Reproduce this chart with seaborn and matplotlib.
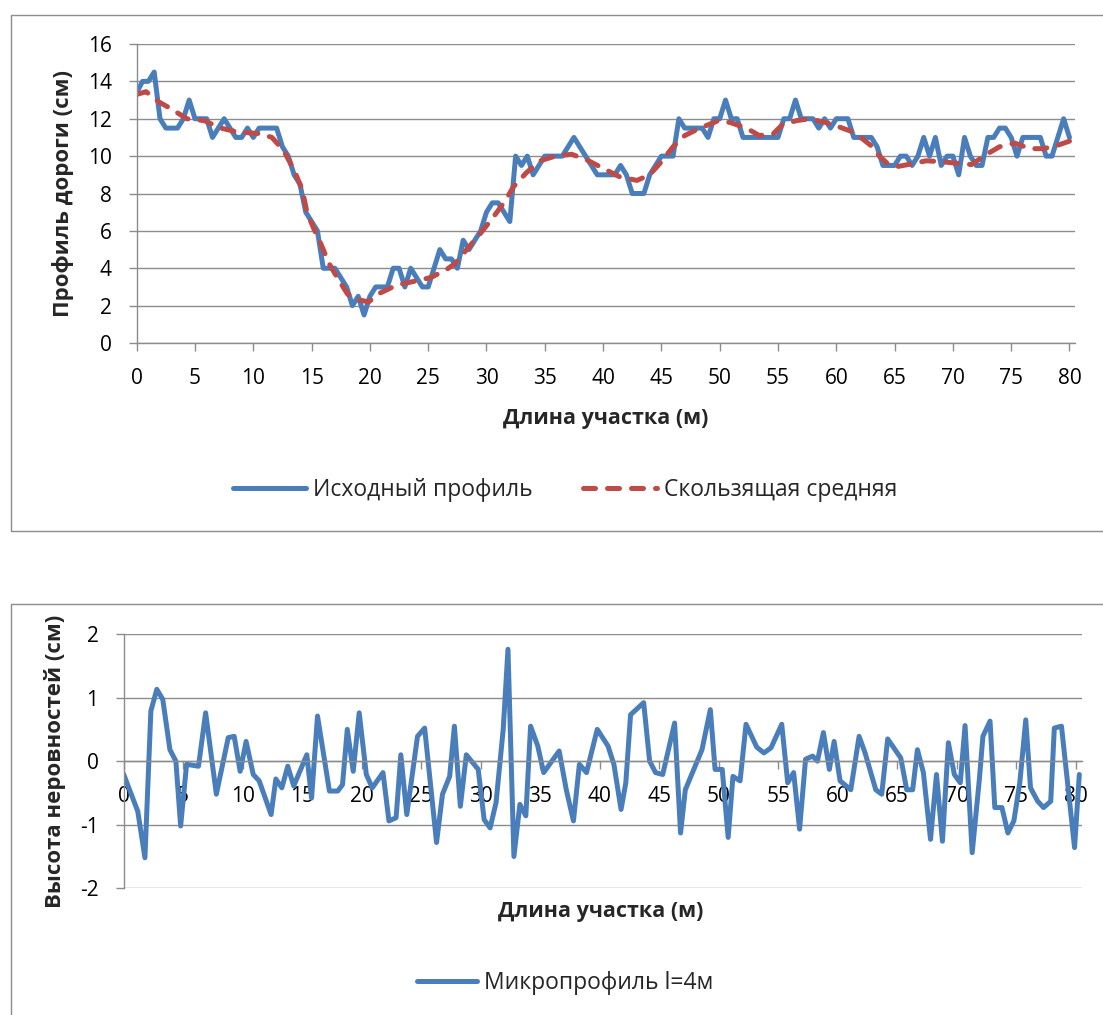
import matplotlib
matplotlib.use("Agg")
import matplotlib.pyplot as plt
from matplotlib.patches import Rectangle
import seaborn as sns
import pandas as pd

# исходный профиль (вершины ломаной)
prof_x = [0, 0.5, 1, 1.5, 2, 2.5, 3, 3.5, 4, 4.5, 5, 5.5, 6, 6.5, 7, 7.5, 8, 8.5, 9, 9.5,
          10, 10.5, 11, 11.5, 12, 12.5, 13, 13.5, 14, 14.5, 15, 15.5, 16, 16.5, 17, 17.5, 18, 18.5, 19, 19.5,
          20, 20.5, 21, 21.5, 22, 22.5, 23, 23.5, 24, 24.5, 25, 25.5, 26, 26.5, 27, 27.5, 28, 28.5, 29, 29.5,
          30, 30.5, 31, 31.5, 32, 32.5, 33, 33.5, 34, 34.5, 35, 35.5, 36, 36.5, 37, 37.5, 38, 38.5, 39, 39.5,
          40, 40.5, 41, 41.5, 42, 42.5, 43, 43.5, 44, 44.5, 45, 45.5, 46, 46.5, 47, 47.5, 48, 48.5, 49, 49.5,
          50, 50.5, 51, 51.5, 52, 52.5, 53, 53.5, 54, 54.5, 55, 55.5, 56, 56.5, 57, 57.5, 58, 58.5, 59, 59.5,
          60, 60.5, 61, 61.5, 62, 62.5, 63, 63.5, 64, 64.5, 65, 65.5, 66, 66.5, 67, 67.5, 68, 68.5, 69, 69.5,
          70, 70.5, 71, 71.5, 72, 72.5, 73, 73.5, 74, 74.5, 75, 75.5, 76, 76.5, 77, 77.5, 78, 78.5, 79, 79.5, 80]
prof_y = [13.4, 14, 14, 14.5, 12, 11.5, 11.5, 11.5, 12, 13, 12, 12, 12, 11, 11.5, 12, 11.5, 11, 11, 11.5,
          11, 11.5, 11.5, 11.5, 11.5, 10.5, 10, 9, 8.5, 7, 6.5, 6, 4, 4, 4, 3.5, 3, 2, 2.5, 1.5,
          2.5, 3, 3, 3, 4, 4, 3, 4, 3.5, 3, 3, 4, 5, 4.5, 4.5, 4, 5.5, 5, 5.5, 6,
          7, 7.5, 7.5, 7, 6.5, 10, 9.5, 10, 9, 9.5, 10, 10, 10, 10, 10.5, 11, 10.5, 10, 9.5, 9,
          9, 9, 9, 9.5, 9, 8, 8, 8, 9, 9.5, 10, 10, 10, 12, 11.5, 11.5, 11.5, 11.5, 11, 12,
          12, 13, 12, 12, 11, 11, 11, 11, 11, 11, 11, 12, 12, 13, 12, 12, 12, 11.5, 12, 11.5,
          12, 12, 12, 11, 11, 11, 11, 10.5, 9.5, 9.5, 9.5, 10, 10, 9.5, 10, 11, 10, 11, 9.5, 10,
          10, 9, 11, 10, 9.5, 9.5, 11, 11, 11.5, 11.5, 11, 10, 11, 11, 11, 11, 10, 10, 11, 12, 11]

# скользящая средняя
ma_x = [0, 0.8, 1.9, 2.9, 4.3, 5.8, 7.2, 8.6, 10.6, 11.6, 12.6, 13.5, 14.2, 14.6, 15.2, 15.8, 16.5, 17.2,
        18.1, 19.1, 19.9, 20.8, 22.3, 23.8, 25.2, 26.5, 27.3, 28.3, 29.4, 30.6, 31.6, 32.3, 33.4, 34.6,
        35.9, 37.3, 38.6, 40, 41.4, 42.9, 44, 45, 46, 47, 48.3, 49.9, 50.9, 52.3, 53.4, 54.6, 55.4, 56.6,
        57.7, 59.1, 60.3, 61.4, 62.3, 63.1, 63.7, 64.4, 65.3, 66.6, 67.7, 69.1, 70.6, 71.6, 72.9, 74,
        75.3, 76.6, 77.7, 78.6, 80]
ma_y = [13.3, 13.45, 12.9, 12.55, 12.0, 11.9, 11.5, 11.3, 11.2, 11.0, 10.3, 9.25, 8.2, 7.0, 6.1, 5.3, 4.25, 3.5,
        2.6, 2.3, 2.2, 2.65, 3.1, 3.3, 3.5, 3.9, 4.25, 5.0, 5.8, 6.75, 7.6, 8.35, 9.1, 9.75,
        10.0, 10.1, 9.8, 9.35, 8.9, 8.7, 9.0, 9.7, 10.5, 11.1, 11.5, 11.9, 11.8, 11.5, 11.1, 11.2, 11.7, 11.9,
        12.0, 11.8, 11.55, 11.3, 10.9, 10.5, 10.0, 9.6, 9.45, 9.6, 9.75, 9.7, 9.6, 9.55, 10.1, 10.5,
        10.7, 10.4, 10.4, 10.5, 10.8]

# микропрофиль l=4м
micro_x = [0, 1.2, 1.8, 2.3, 2.8, 3.3, 3.9, 4.4, 4.8, 5.3, 6.3, 6.9, 7.8, 8.8, 9.3, 9.8, 10.3, 10.9, 11.4,
           12.4, 12.8, 13.3, 13.8, 14.3, 15.4, 15.8, 16.3, 17.3, 18.0, 18.4, 18.8, 19.3, 19.8, 20.4, 20.9,
           21.8, 22.3, 22.9, 23.3, 23.8, 24.7, 25.3, 26.3, 26.8, 27.4, 27.8, 28.3, 28.8, 29.8, 30.3, 30.8,
           31.3, 31.9, 32.3, 32.8, 33.3, 33.8, 34.2, 34.8, 35.3, 36.6, 37.2, 37.8, 38.3, 38.9, 39.8, 40.7,
           41.2, 41.8, 42.2, 42.6, 43.7, 44.2, 44.7, 45.3, 46.3, 46.8, 47.2, 48.6, 49.3, 49.7, 50.3, 50.8,
           51.2, 51.8, 52.3, 53.2, 53.8, 54.4, 55.3, 55.8, 56.3, 56.8, 57.3, 57.9, 58.3, 58.8, 59.3, 59.7,
           60.2, 61.1, 61.8, 62.3, 63.2, 63.7, 64.2, 65.3, 65.8, 66.3, 66.7, 67.2, 67.8, 68.3, 68.8, 69.3,
           69.8, 70.3, 70.7, 71.3, 71.9, 72.2, 72.8, 73.2, 73.8, 74.3, 74.8, 75.3, 75.8, 76.2, 76.8, 77.3,
           77.9, 78.2, 78.8, 79.9, 80.3]
micro_y = [-0.2, -0.79, -1.52, 0.79, 1.13, 0.97, 0.18, 0.0, -1.02, -0.05, -0.08, 0.76, -0.52, 0.37, 0.39, -0.16, 0.31, -0.21, -0.31,
           -0.84, -0.28, -0.42, -0.08, -0.39, 0.1, -0.58, 0.71, -0.47, -0.47, -0.37, 0.5, -0.16, 0.76, -0.21, -0.42,
           -0.18, -0.94, -0.89, 0.1, -0.84, 0.39, 0.52, -1.28, -0.52, -0.24, 0.55, -0.71, 0.1, -0.13, -0.92, -1.05,
           -0.65, 0.5, 1.76, -1.5, -0.68, -0.86, 0.55, 0.24, -0.18, 0.16, -0.45, -0.94, -0.05, -0.18, 0.5, 0.24,
           -0.05, -0.76, -0.34, 0.73, 0.92, 0.0, -0.18, -0.21, 0.6, -1.13, -0.45, 0.18, 0.81, -0.13, -0.13, -1.2,
           -0.24, -0.31, 0.58, 0.22, 0.13, 0.21, 0.58, -0.34, -0.18, -1.07, 0.03, 0.08, 0.0, 0.45, -0.13, 0.31,
           -0.31, -0.45, 0.39, 0.13, -0.45, -0.52, 0.35, 0.05, -0.45, -0.45, 0.18, -0.18, -1.23, -0.21, -1.26, 0.29,
           -0.21, -0.34, 0.56, -1.44, -0.29, 0.39, 0.63, -0.73, -0.73, -1.13, -0.94, -0.34, 0.65, -0.42, -0.63, -0.73,
           -0.63, 0.52, 0.55, -1.36, -0.21]

x_ticks = list(range(0, 85, 5))

BLUE = "#4a7ebb"
RED = "#be4b48"
GRID = "#8c8c8c"

sns.set_style("white")
plt.rcParams['font.family'] = ['Open Sans', 'DejaVu Sans']
plt.rcParams['axes.unicode_minus'] = False

W, H = 1103, 1015
fig = plt.figure(figsize=(W / 100, H / 100), dpi=100)


def fx(px):
    return px / W


def fy(py):
    return 1 - py / H


# рамки диаграмм
fig.patches.append(Rectangle((fx(11), fy(530.7)), fx(1200), fy(15) - fy(530.7),
                             transform=fig.transFigure, fill=False, edgecolor=GRID, linewidth=1.0))
fig.patches.append(Rectangle((fx(11), fy(1100)), fx(1200), fy(604.3) - fy(1100),
                             transform=fig.transFigure, fill=False, edgecolor=GRID, linewidth=1.0))


def style_axis(ax):
    for s in ['top', 'right']:
        ax.spines[s].set_visible(False)
    for s in ['left', 'bottom']:
        ax.spines[s].set_color(GRID)
        ax.spines[s].set_linewidth(1.0)
    ax.grid(axis='y', color=GRID, linewidth=1.0)
    ax.grid(axis='x', visible=False)
    ax.tick_params(axis='both', direction='out', length=6, width=1.0, color=GRID,
                   labelsize=15, labelcolor='black', pad=12, left=True, bottom=True)
    ax.set_xticks(x_ticks)
    ax.set_xlim(0, 80.5)


# верхний график
ax1 = fig.add_axes([fx(136.7), fy(343), fx(1075.3) - fx(136.7), fy(44) - fy(343)])
top_df = pd.DataFrame({'x': prof_x, 'y': prof_y})
ma_df = pd.DataFrame({'x': ma_x, 'y': ma_y})
sns.lineplot(data=top_df, x='x', y='y', ax=ax1, color=BLUE, linewidth=3.6,
             label='Исходный профиль')
sns.lineplot(data=ma_df, x='x', y='y', ax=ax1, color=RED, linewidth=3.6,
             label='Скользящая средняя')
ma_line = ax1.lines[-1]
ma_line.set_dashes((2.4, 2.4))
ma_line.set_dash_capstyle('round')
style_axis(ax1)
ax1.set_ylim(0, 16)
ax1.set_yticks(range(0, 17, 2))
ax1.set_xlabel('Длина участка (м)', fontsize=15.5, fontweight='bold', labelpad=14)
ax1.set_ylabel('Профиль дороги (см)', fontsize=16, fontweight='bold', labelpad=10)
h1, l1 = ax1.get_legend_handles_labels()
ax1.get_legend().remove()
fig.legend(h1, l1, loc='center', bbox_to_anchor=(fx(565), fy(490)), ncol=2, frameon=False,
           fontsize=16.5, handlelength=3.2, handletextpad=0.3, columnspacing=2.2)

# нижний график
ax2 = fig.add_axes([fx(123.5), fy(888.3), fx(1081.7) - fx(123.5), fy(634) - fy(888.3)])
micro_df = pd.DataFrame({'x': micro_x, 'y': micro_y})
sns.lineplot(data=micro_df, x='x', y='y', ax=ax2, color=BLUE, linewidth=3.6,
             label='Микропрофиль l=4м')
style_axis(ax2)
ax2.spines['bottom'].set_position(('data', 0))
ax2.set_ylim(-2, 2)
ax2.set_yticks([-2, -1, 0, 1, 2])
ax2.set_xlabel('')
fig.text(fx(601), fy(912), 'Длина участка (м)', fontsize=15.5, fontweight='bold',
         ha='center', va='center')
ax2.set_ylabel('Высота неровностей (см)', fontsize=16, fontweight='bold', labelpad=10)
h2, l2 = ax2.get_legend_handles_labels()
ax2.get_legend().remove()
fig.legend(h2, l2, loc='center', bbox_to_anchor=(fx(565), fy(983)), ncol=1, frameon=False,
           fontsize=16.5, handlelength=2.6, handletextpad=0.3)

fig.savefig('out.png', dpi=100)
